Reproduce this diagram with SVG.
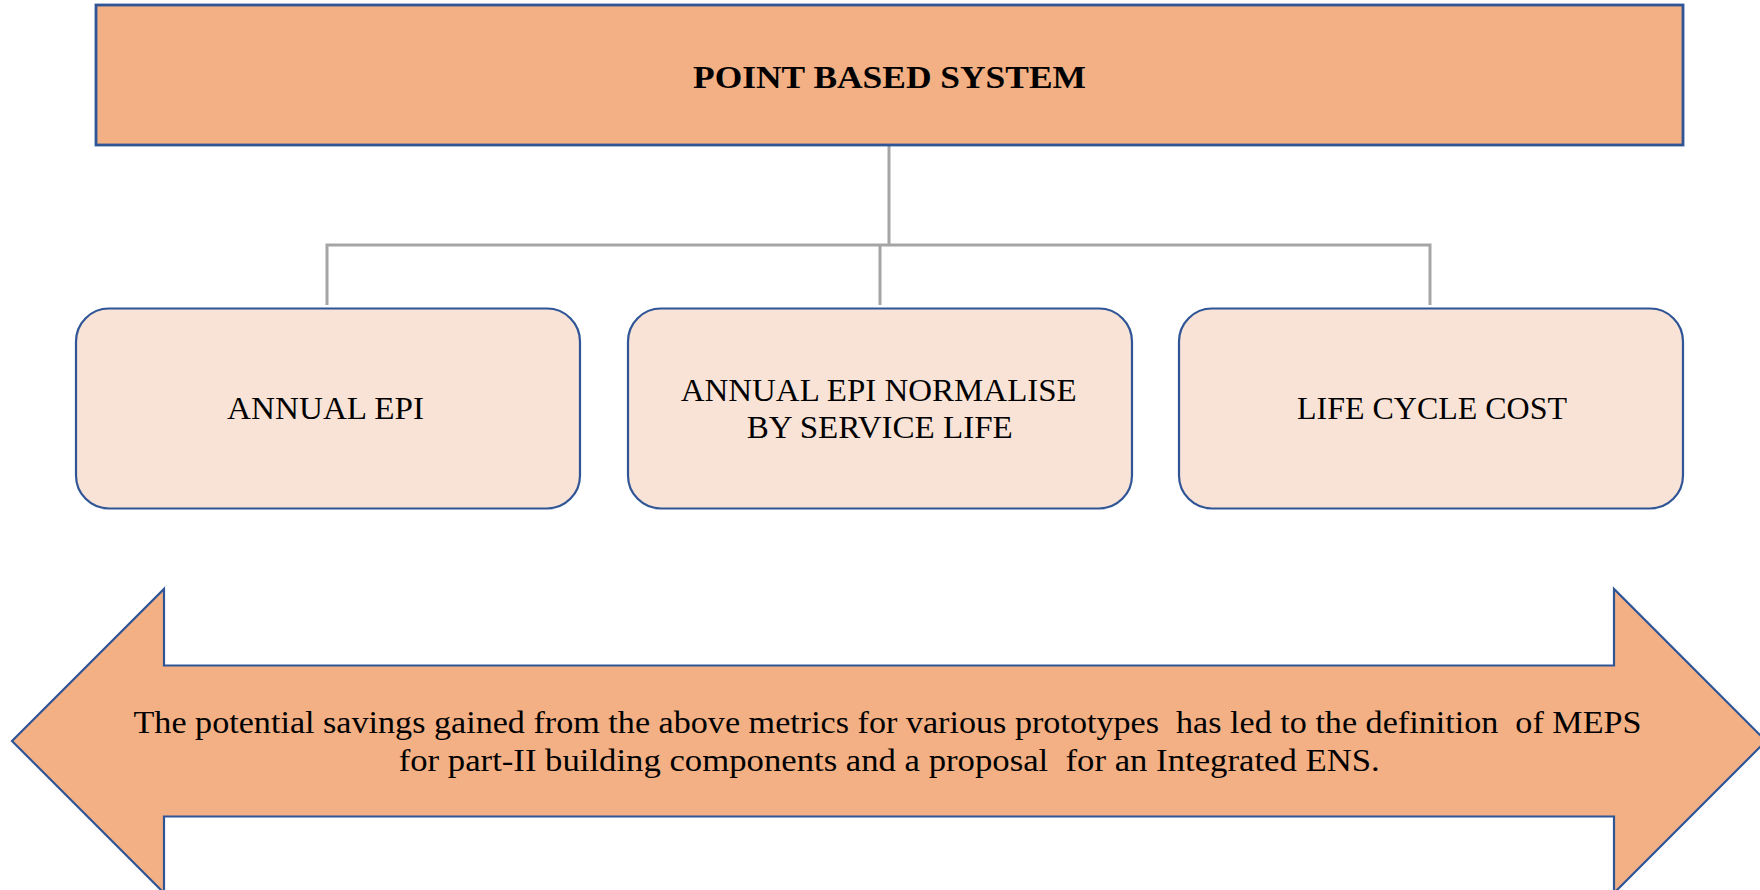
<svg xmlns="http://www.w3.org/2000/svg" width="1760" height="890" viewBox="0 0 1760 890">
<style>
.t{font-family:"Liberation Serif","Times New Roman",serif;fill:#000;white-space:pre}
.box{fill:#F9E3D6;stroke:#2F5597;stroke-width:2.2}
.conn{fill:none;stroke:#A5A5A5;stroke-width:3}
</style>
<rect x="0" y="0" width="1760" height="890" fill="#fff"/>
<g id="connectors">
<path class="conn" d="M889,146 V245 M327,305 V245 H1430 V305 M880,245 V305"/>
</g>
<g id="top">
<rect x="96" y="5" width="1587" height="140" fill="#F3B084" stroke="#2F5597" stroke-width="2.8"/>
<text class="t" x="889.5" y="87.7" font-size="31" font-weight="bold" text-anchor="middle" textLength="393" lengthAdjust="spacingAndGlyphs">POINT BASED SYSTEM</text>
</g>
<g id="box1">
<rect class="box" x="76" y="308.5" width="504" height="200" rx="33" ry="33"/>
<text class="t" x="325.5" y="419.3" font-size="31" text-anchor="middle" textLength="197" lengthAdjust="spacingAndGlyphs">ANNUAL EPI</text>
</g>
<g id="box2">
<rect class="box" x="628" y="308.5" width="504" height="200" rx="33" ry="33"/>
<text class="t" x="878.7" y="400.7" font-size="31" text-anchor="middle" textLength="396" lengthAdjust="spacingAndGlyphs">ANNUAL EPI NORMALISE</text>
<text class="t" x="879.8" y="438.3" font-size="31" text-anchor="middle" textLength="266" lengthAdjust="spacingAndGlyphs">BY SERVICE LIFE</text>
</g>
<g id="box3">
<rect class="box" x="1179" y="308.5" width="504" height="200" rx="33" ry="33"/>
<text class="t" x="1432" y="419.3" font-size="31" text-anchor="middle" textLength="270" lengthAdjust="spacingAndGlyphs">LIFE CYCLE COST</text>
</g>
<g id="arrow">
<path d="M12,741 L164,589 L164,665.5 L1614,665.5 L1614,589 L1766,741 L1614,893 L1614,816.5 L164,816.5 L164,893 Z" fill="#F3B084" stroke="#2F5597" stroke-width="2.2" stroke-linejoin="miter"/>
<text class="t" x="887.5" y="733.3" font-size="31" text-anchor="middle" textLength="1508" lengthAdjust="spacingAndGlyphs" xml:space="preserve">The potential savings gained from the above metrics for various prototypes  has led to the definition  of MEPS</text>
<text class="t" x="889.2" y="771" font-size="31" text-anchor="middle" textLength="981" lengthAdjust="spacingAndGlyphs" xml:space="preserve">for part-II building components and a proposal  for an Integrated ENS.</text>
</g>
</svg>
